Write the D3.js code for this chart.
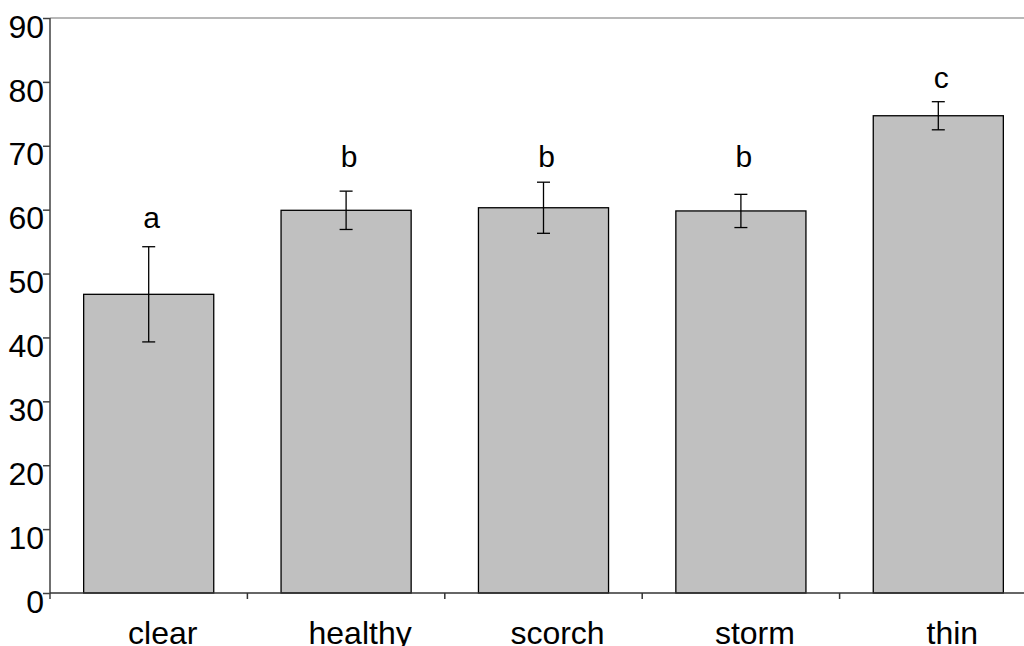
<!DOCTYPE html>
<html>
<head>
<meta charset="utf-8">
<script src="https://cdn.jsdelivr.net/npm/d3@7"></script>
<style>
  html, body { margin: 0; padding: 0; background: #fff; }
  svg { display: block; font-family: Arial, "Liberation Sans", sans-serif; }
</style>
</head>
<body>
<svg id="chart" width="1024" height="646"></svg>
<script>
// Group means, standard errors and significance letters
const categories = ["clear", "healthy", "scorch", "storm", "thin"];
const means = [46.75, 59.9, 60.3, 59.8, 74.7];
const errors = [7.45, 3.0, 4.0, 2.6, 2.2];
const letters = ["a", "b", "b", "b", "c"];
const letterLevels = [57.1, 66.7, 66.7, 66.7, 79.0];
const yTicks = [0, 10, 20, 30, 40, 50, 60, 70, 80, 90];

const svg = d3.select("#chart");
const plotLeft = 50, plotTop = 18, plotBottom = 593, plotRight = 1037;

const x = d3.scaleBand()
  .domain(categories)
  .range([plotLeft, plotRight])
  .paddingInner(0.341)
  .paddingOuter(0.1705);

const y = d3.scaleLinear().domain([0, 90]).range([plotBottom, plotTop]);

// top frame line
svg.append("line")
  .attr("x1", plotLeft).attr("x2", 1024)
  .attr("y1", y(90)).attr("y2", y(90))
  .attr("stroke", "#a0a0a0").attr("stroke-width", 1.5);

// bars
svg.selectAll("rect.bar")
  .data(categories)
  .join("rect")
  .attr("class", "bar")
  .attr("x", d => x(d))
  .attr("width", x.bandwidth())
  .attr("y", (d, i) => y(means[i]))
  .attr("height", (d, i) => y(0) - y(means[i]))
  .attr("fill", "#c0c0c0")
  .attr("stroke", "#000")
  .attr("stroke-width", 1.3);

// error bars
const eb = svg.selectAll("g.err")
  .data(categories)
  .join("g")
  .attr("class", "err")
  .attr("stroke", "#000")
  .attr("stroke-width", 1.3);
const cx = d => x(d) + x.bandwidth() / 2;
eb.append("line")
  .attr("x1", cx).attr("x2", cx)
  .attr("y1", (d, i) => y(means[i] + errors[i]))
  .attr("y2", (d, i) => y(means[i] - errors[i]));
eb.append("line")
  .attr("x1", d => cx(d) - 6.5).attr("x2", d => cx(d) + 6.5)
  .attr("y1", (d, i) => y(means[i] + errors[i]))
  .attr("y2", (d, i) => y(means[i] + errors[i]));
eb.append("line")
  .attr("x1", d => cx(d) - 6.5).attr("x2", d => cx(d) + 6.5)
  .attr("y1", (d, i) => y(means[i] - errors[i]))
  .attr("y2", (d, i) => y(means[i] - errors[i]));

// significance letters
svg.selectAll("text.sig")
  .data(categories)
  .join("text")
  .attr("class", "sig")
  .attr("x", d => cx(d) + 3)
  .attr("y", (d, i) => y(letterLevels[i]))
  .attr("text-anchor", "middle")
  .attr("font-size", 30)
  .attr("fill", "#000")
  .text((d, i) => letters[i]);

// y axis
const yAxis = svg.append("g")
  .attr("transform", `translate(${plotLeft},0)`)
  .call(d3.axisLeft(y).tickValues(yTicks).tickSize(7).tickPadding(-1).tickSizeOuter(0));
yAxis.select(".domain").remove();
yAxis.append("line")
  .attr("x1", 0).attr("x2", 0)
  .attr("y1", y(90)).attr("y2", plotBottom + 6)
  .attr("stroke", "#404040").attr("stroke-width", 1.5);
yAxis.selectAll(".tick line").attr("stroke", "#404040").attr("stroke-width", 1.5);
yAxis.selectAll(".tick text")
  .attr("font-size", 32)
  .attr("font-family", "Arial, 'Liberation Sans', sans-serif")
  .attr("fill", "#000")
  .attr("dy", "0.6em");

// x axis: baseline and ticks at band boundaries
const step = x.step();
const xa = svg.append("g");
xa.append("line")
  .attr("x1", plotLeft).attr("x2", 1024)
  .attr("y1", plotBottom).attr("y2", plotBottom)
  .attr("stroke", "#333").attr("stroke-width", 1.5);
xa.selectAll("line.xt")
  .data(d3.range(1, categories.length + 1))
  .join("line")
  .attr("class", "xt")
  .attr("x1", i => plotLeft + i * step).attr("x2", i => plotLeft + i * step)
  .attr("y1", plotBottom).attr("y2", plotBottom + 6)
  .attr("stroke", "#333").attr("stroke-width", 1.5);
xa.selectAll("text")
  .data(categories)
  .join("text")
  .attr("x", d => cx(d) + 14)
  .attr("y", 644)
  .attr("text-anchor", "middle")
  .attr("font-size", 32)
  .attr("fill", "#000")
  .text(d => d);
</script>
</body>
</html>
